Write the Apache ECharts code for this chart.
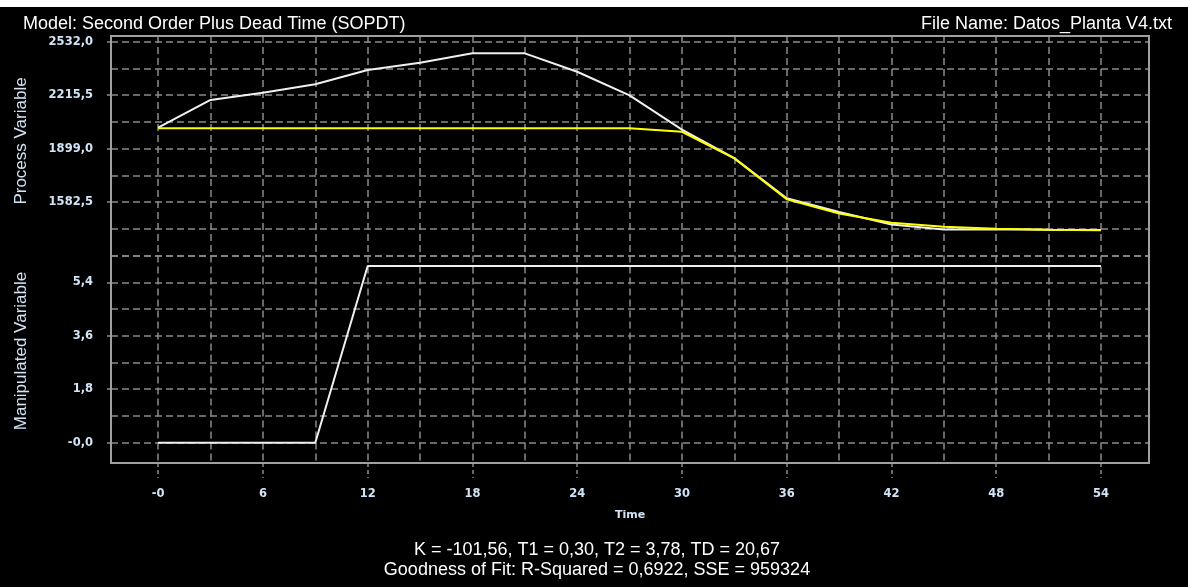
<!DOCTYPE html>
<html>
<head>
<meta charset="utf-8">
<title>SOPDT model fit</title>
<script src="https://cdn.jsdelivr.net/npm/echarts@6/dist/echarts.min.js"></script>
<style>
  html, body { margin: 0; padding: 0; background: #000; }
  #chart { width: 1188px; height: 587px; }
</style>
</head>
<body>
<div id="chart"></div>
<script>
// sample times (every 3 time units)
const timeValues = [0, 3, 6, 9, 12, 15, 18, 21, 24, 27, 30, 33, 36, 39, 42, 45, 48, 51, 54];
// measured process variable (white)
const processValues = [2024, 2187, 2230, 2280, 2364, 2408, 2463, 2463, 2354, 2214, 2012, 1843, 1605, 1524, 1450, 1420, 1422, 1419, 1417];
// SOPDT model response (yellow)
const modelValues = [2019, 2019, 2019, 2019, 2019, 2019, 2019, 2019, 2019, 2019, 1999, 1841, 1600, 1515, 1461, 1437, 1425, 1419, 1416];
// manipulated variable
const manipulatedValues = [0, 0, 0, 0, 5.95, 5.95, 5.95, 5.95, 5.95, 5.95, 5.95, 5.95, 5.95, 5.95, 5.95, 5.95, 5.95, 5.95, 5.95];

// grid lines and tick labels
const timeGridTicks = [0, 3, 6, 9, 12, 15, 18, 21, 24, 27, 30, 33, 36, 39, 42, 45, 48, 51, 54];
const timeLabelTicks = [0, 6, 12, 18, 24, 30, 36, 42, 48, 54];
const timeLabelText = ['-0', '6', '12', '18', '24', '30', '36', '42', '48', '54'];
const pvGridTicks = [1266, 1424.25, 1582.5, 1740.75, 1899, 2057.25, 2215.5, 2373.75, 2532];
const pvLabelTicks = [1582.5, 1899, 2215.5, 2532];
const pvLabelText = ['1582,5', '1899,0', '2215,5', '2532,0'];
const mvGridTicks = [0, 0.9, 1.8, 2.7, 3.6, 4.5, 5.4, 6.3];
const mvLabelTicks = [0, 1.8, 3.6, 5.4];
const mvLabelText = ['-0,0', '1,8', '3,6', '5,4'];

const chart = echarts.init(document.getElementById('chart'));

const gridColor = '#8a8a8a';
const labelColor = '#d2e4f6';
const labelFont = { color: labelColor, fontFamily: 'DejaVu Sans', fontWeight: 'bold', fontSize: 11.5 };
const textFont = '18px "Liberation Sans", Arial, sans-serif';

function pick(ticks, texts) {
  return (v) => {
    const i = ticks.findIndex((t) => Math.abs(t - v) < 1e-6);
    return i < 0 ? '' : texts[i];
  };
}

const noLine = { show: false, onZero: false };
const splitStyle = { show: true, lineStyle: { color: gridColor, type: [7, 4], width: 1.5 } };
const tickStyle = { color: gridColor, width: 1.5 };

function textEl(text, x, y, align, extra) {
  return Object.assign({
    type: 'text', z: 100, x: x, y: y,
    style: { text: text, fill: '#fff', font: textFont, align: align, verticalAlign: 'middle',
      textAlign: align, textVerticalAlign: 'middle' }
  }, extra || {});
}

const option = {
  backgroundColor: '#000',
  animation: false,
  grid: [
    { left: 111, width: 1038, top: 36, height: 219.6 },
    { left: 111, width: 1038, top: 255.6, height: 207.4 }
  ],
  xAxis: [
    {
      type: 'value', gridIndex: 0, min: -2.7, max: 56.75,
      axisLine: noLine,
      axisTick: { show: false, customValues: timeGridTicks },
      axisLabel: { show: false },
      splitLine: splitStyle
    },
    {
      type: 'value', gridIndex: 1, min: -2.7, max: 56.75, position: 'bottom',
      axisLine: noLine,
      axisTick: { show: false, customValues: timeGridTicks },
      axisLabel: { show: false },
      splitLine: splitStyle
    },
    {
      type: 'value', gridIndex: 1, min: -2.7, max: 56.75, position: 'bottom',
      axisLine: noLine,
      axisTick: { show: true, length: 15, customValues: timeLabelTicks,
        lineStyle: { color: gridColor, type: [4, 3], width: 1.5 } },
      axisLabel: Object.assign({ customValues: timeLabelTicks, margin: 25,
        formatter: pick(timeLabelTicks, timeLabelText) }, labelFont),
      splitLine: { show: false },
      name: 'Time', nameLocation: 'middle', nameGap: 47,
      nameTextStyle: { color: labelColor, fontFamily: 'DejaVu Sans', fontWeight: 'bold', fontSize: 11 }
    }
  ],
  yAxis: [
    {
      type: 'value', gridIndex: 0, min: 1266, max: 2565.7,
      axisLine: noLine,
      axisTick: { show: false, customValues: pvGridTicks },
      axisLabel: { show: false },
      splitLine: splitStyle
    },
    {
      type: 'value', gridIndex: 1, min: -0.684, max: 6.3,
      axisLine: noLine,
      axisTick: { show: false, customValues: mvGridTicks },
      axisLabel: { show: false },
      splitLine: splitStyle
    },
    {
      // labelled ticks of the process variable
      type: 'value', gridIndex: 0, min: 1266, max: 2565.7, position: 'left',
      axisLine: noLine,
      axisTick: { show: true, length: 4, customValues: pvLabelTicks, lineStyle: tickStyle },
      axisLabel: Object.assign({ customValues: pvLabelTicks, margin: 18,
        formatter: pick(pvLabelTicks, pvLabelText) }, labelFont),
      splitLine: { show: false }
    },
    {
      // labelled ticks of the manipulated variable
      type: 'value', gridIndex: 1, min: -0.684, max: 6.3, position: 'left',
      axisLine: noLine,
      axisTick: { show: true, length: 4, customValues: mvLabelTicks, lineStyle: tickStyle },
      axisLabel: Object.assign({ customValues: mvLabelTicks, margin: 18,
        formatter: pick(mvLabelTicks, mvLabelText) }, labelFont),
      splitLine: { show: false }
    }
  ],
  series: [
    {
      name: 'Process Variable', type: 'line', xAxisIndex: 0, yAxisIndex: 0,
      showSymbol: false, lineStyle: { color: '#f0f0f0', width: 2 },
      data: timeValues.map((t, i) => [t, processValues[i]])
    },
    {
      name: 'Model', type: 'line', xAxisIndex: 0, yAxisIndex: 0,
      showSymbol: false, lineStyle: { color: '#ffff00', width: 2 },
      data: timeValues.map((t, i) => [t, modelValues[i]])
    },
    {
      name: 'Manipulated Variable', type: 'line', xAxisIndex: 1, yAxisIndex: 1,
      showSymbol: false, lineStyle: { color: '#f0f0f0', width: 2 },
      data: timeValues.map((t, i) => [t, manipulatedValues[i]])
    }
  ],
  graphic: [
    { type: 'rect', z: 100, shape: { x: 0, y: 0, width: 1188, height: 7 }, style: { fill: '#fff' } },
    { type: 'rect', z: 100, shape: { x: 111, y: 36, width: 1038, height: 427 },
      style: { fill: 'none', stroke: '#a0a0a0', lineWidth: 2 } },
    textEl('Model: Second Order Plus Dead Time (SOPDT)', 23, 24, 'left'),
    textEl('File Name: Datos_Planta V4.txt', 1172, 24, 'right'),
    {
      type: 'text', z: 100, x: 21, y: 141, rotation: Math.PI / 2,
      style: { text: 'Process Variable', fill: labelColor,
        font: '17px "Liberation Sans", Arial, sans-serif', align: 'center', verticalAlign: 'middle',
        textAlign: 'center', textVerticalAlign: 'middle' }
    },
    {
      type: 'text', z: 100, x: 21, y: 351, rotation: Math.PI / 2,
      style: { text: 'Manipulated Variable', fill: labelColor,
        font: '17px "Liberation Sans", Arial, sans-serif', align: 'center', verticalAlign: 'middle',
        textAlign: 'center', textVerticalAlign: 'middle' }
    },
    textEl('K = -101,56, T1 = 0,30, T2 = 3,78, TD = 20,67', 597, 550, 'center'),
    textEl('Goodness of Fit: R-Squared = 0,6922, SSE = 959324', 597, 570, 'center')
  ]
};

chart.setOption(option);
</script>
</body>
</html>
